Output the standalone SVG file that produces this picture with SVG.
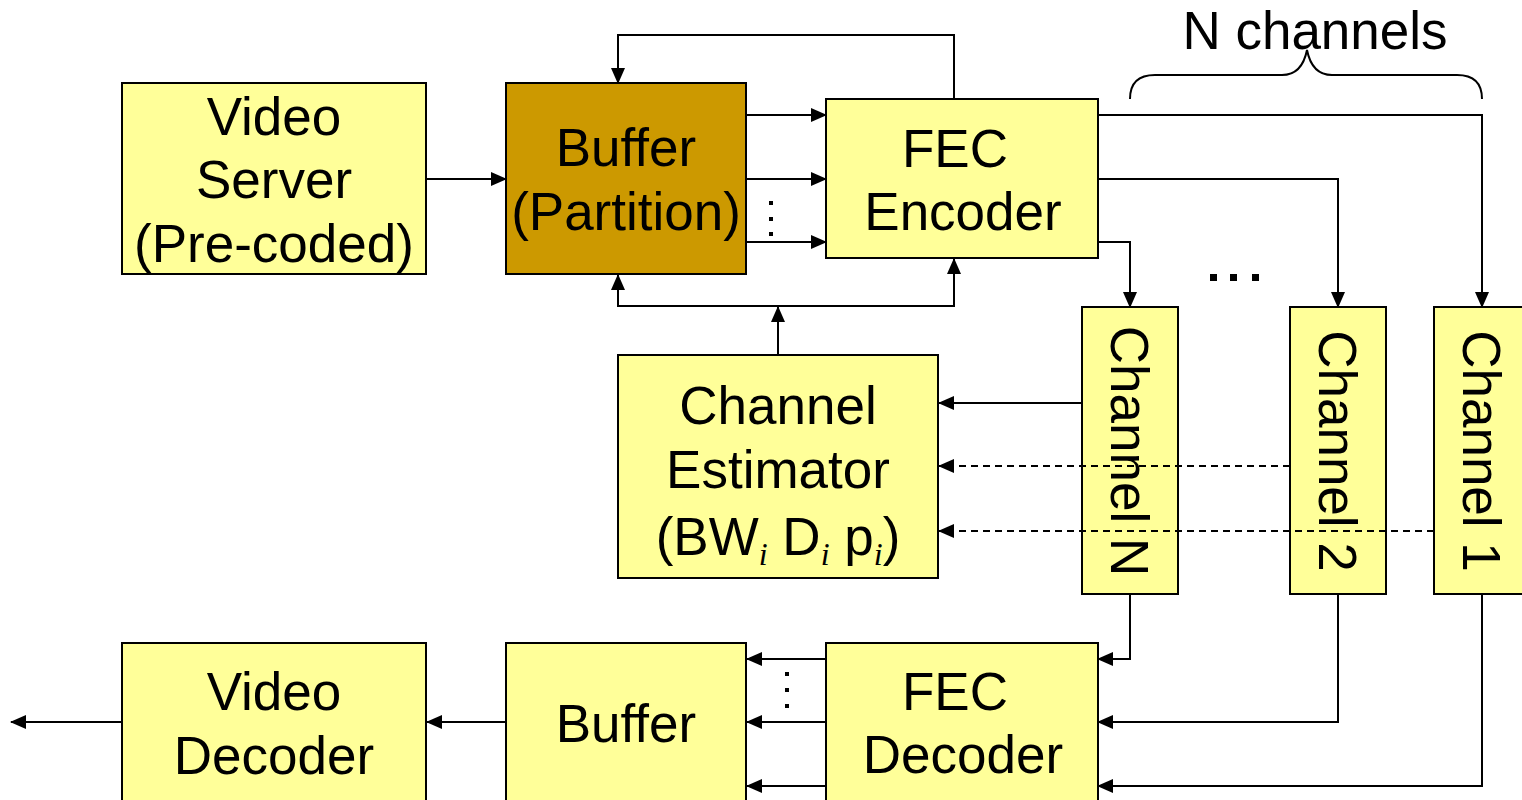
<svg xmlns="http://www.w3.org/2000/svg" width="1522" height="800" viewBox="0 0 1522 800">
<style>
.box{fill:#FFFF99;stroke:#000;stroke-width:2}
.brown{fill:#CC9900;stroke:#000;stroke-width:2}
.t{font-family:"Liberation Sans",Arial,sans-serif;font-size:53px;fill:#000;text-anchor:middle}
.sub{font-family:"Liberation Serif","Times New Roman",serif;font-style:italic;font-size:32px}
.ln{fill:none;stroke:#000;stroke-width:2}
.dash{stroke-dasharray:7 5}
.arr{marker-end:url(#ah)}
</style>
<defs>
<marker id="ah" markerUnits="userSpaceOnUse" markerWidth="16" markerHeight="14" refX="15" refY="7" orient="auto">
<path d="M0,0 L16,7 L0,14 Z" fill="#000"/>
</marker>
</defs>
<rect width="1522" height="800" fill="#fff"/>

<g id="video-server">
<rect class="box" x="122" y="83" width="304" height="191"/>
<text class="t" x="274" y="135">Video</text>
<text class="t" x="274" y="198">Server</text>
<text class="t" x="274" y="262">(Pre-coded)</text>
</g>

<g id="buffer-partition">
<rect class="brown" x="506" y="83" width="240" height="191"/>
<text class="t" x="626" y="166">Buffer</text>
<text class="t" x="626" y="230">(Partition)</text>
</g>

<g id="fec-encoder">
<rect class="box" x="826" y="99" width="272" height="159"/>
<text class="t" x="955" y="167">FEC</text>
<text class="t" x="963" y="230">Encoder</text>
</g>

<g id="channel-estimator">
<rect class="box" x="618" y="355" width="320" height="223"/>
<text class="t" x="778" y="424">Channel</text>
<text class="t" x="778" y="488">Estimator</text>
<text class="t" x="778" y="555">(BW<tspan class="sub" dy="10">i</tspan><tspan dy="-10"> D</tspan><tspan class="sub" dy="10">i</tspan><tspan dy="-10"> p</tspan><tspan class="sub" dy="10">i</tspan><tspan dy="-10">)</tspan></text>
</g>

<g id="channel-n">
<rect class="box" x="1082" y="307" width="96" height="287"/>
<text class="t" transform="translate(1111,451) rotate(90)">Channel N</text>
</g>

<g id="channel-2">
<rect class="box" x="1290" y="307" width="96" height="287"/>
<text class="t" transform="translate(1319,451) rotate(90)">Channel 2</text>
</g>

<g id="channel-1">
<rect class="box" x="1434" y="307" width="96" height="287"/>
<text class="t" transform="translate(1463,451) rotate(90)">Channel 1</text>
</g>

<g id="video-decoder">
<rect class="box" x="122" y="643" width="304" height="170"/>
<text class="t" x="274" y="710">Video</text>
<text class="t" x="274" y="774">Decoder</text>
</g>

<g id="buffer">
<rect class="box" x="506" y="643" width="240" height="170"/>
<text class="t" x="626" y="742">Buffer</text>
</g>

<g id="fec-decoder">
<rect class="box" x="826" y="643" width="272" height="170"/>
<text class="t" x="955" y="710">FEC</text>
<text class="t" x="963" y="773">Decoder</text>
</g>

<g id="brace">
<path class="ln" d="M1130,99 Q1130,75 1155,75 L1282,75 Q1302,75 1307,50 Q1312,75 1332,75 L1457,75 Q1482,75 1482,99"/>
<text class="t" x="1315" y="49">N channels</text>
</g>

<g id="connectors">
<path class="ln arr" d="M426,179 H506"/>
<path class="ln arr" d="M746,115 H826"/>
<path class="ln arr" d="M746,179 H826"/>
<path class="ln arr" d="M746,242 H826"/>
<path class="ln arr" d="M954,99 V35 H618 V83"/>
<path class="ln arr" d="M778,306 H618 V275"/>
<path class="ln arr" d="M778,306 H954 V259"/>
<path class="ln arr" d="M778,355 V307"/>
<path class="ln arr" d="M1098,115 H1482 V307"/>
<path class="ln arr" d="M1098,179 H1338 V307"/>
<path class="ln arr" d="M1098,242 H1130 V307"/>
<path class="ln arr" d="M1082,403 H939"/>
<path class="ln dash arr" d="M1290,466 H939"/>
<path class="ln dash arr" d="M1434,531 H939"/>
<path class="ln arr" d="M1130,595 V659 H1098"/>
<path class="ln arr" d="M1338,595 V722 H1098"/>
<path class="ln arr" d="M1482,595 V786 H1098"/>
<path class="ln arr" d="M826,659 H747"/>
<path class="ln arr" d="M826,722 H747"/>
<path class="ln arr" d="M826,786 H747"/>
<path class="ln arr" d="M506,722 H427"/>
<path class="ln arr" d="M122,722 H11"/>
<g fill="#000">
<rect x="769" y="201" width="4" height="4"/><rect x="769" y="217" width="4" height="4"/><rect x="769" y="232" width="4" height="4"/>
<rect x="785" y="672" width="4" height="4"/><rect x="785" y="688" width="4" height="4"/><rect x="785" y="704" width="4" height="4"/>
<rect x="1210" y="274" width="7" height="7"/><rect x="1230" y="274" width="7" height="7"/><rect x="1252" y="274" width="7" height="7"/>
</g>
</g>
</svg>
